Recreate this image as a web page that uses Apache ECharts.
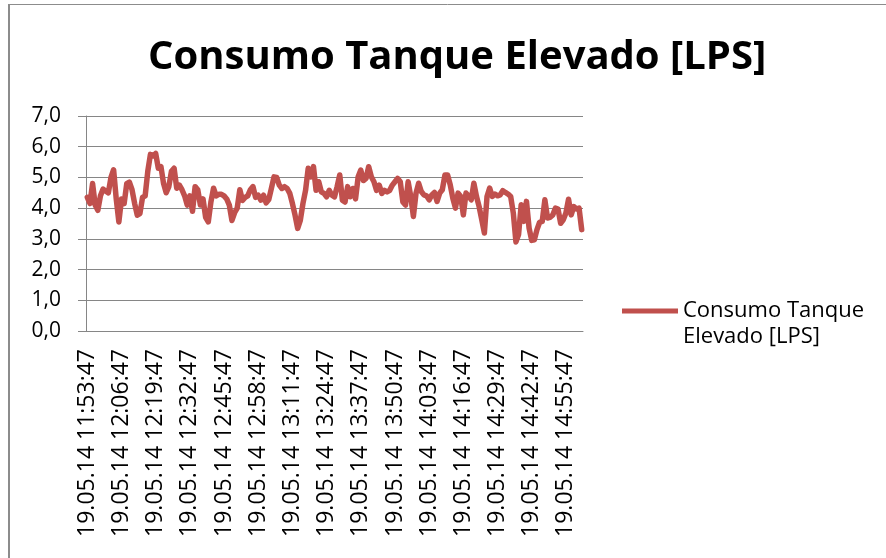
<!DOCTYPE html>
<html>
<head>
<meta charset="utf-8">
<script src="https://cdn.jsdelivr.net/npm/echarts@6/dist/echarts.min.js"></script>
<style>
  html, body { margin: 0; padding: 0; background: #fff; }
  #chart { width: 886px; height: 558px; }
</style>
</head>
<body>
<div id="chart"></div>
<script>
var seriesName = 'Consumo Tanque Elevado [LPS]';

// one reading per minute, starting 19.05.14 11:53:47
var startHour = 11;
var startMinute = 53;
var pointCount = 189;

var consumo = [
    4.35, 4.15, 4.8, 4.1, 3.93, 4.4, 4.62, 4.55, 4.5, 5.0,
    5.25, 4.3, 3.55, 4.3, 4.15, 4.8, 4.85, 4.6, 4.15, 3.77,
    3.82, 4.35, 4.4, 5.2, 5.75, 5.7, 5.78, 5.3, 5.35, 4.8,
    4.5, 4.7, 5.2, 5.3, 4.65, 4.75, 4.6, 4.4, 4.1, 4.4,
    3.9, 4.7, 4.6, 4.1, 4.3, 3.7, 3.55, 4.2, 4.65, 4.4,
    4.45, 4.45, 4.4, 4.3, 4.1, 3.6, 3.85, 4.0, 4.6, 4.25,
    4.35, 4.4,
    4.6, 4.7, 4.35, 4.42, 4.26, 4.42, 4.17, 4.28, 4.64, 5.02,
    5.0, 4.75, 4.64, 4.7, 4.64, 4.48, 4.15, 3.77, 3.34, 3.6,
    4.15, 4.58, 5.3, 5.02, 5.35, 4.58, 4.86, 4.53, 4.48, 4.37,
    4.58, 4.42, 4.37, 4.7, 5.08, 4.26, 4.2, 4.7, 4.37, 4.64,
    4.3, 5.02, 5.24, 4.9, 4.97, 5.35, 5.02, 4.86, 4.58, 4.75,
    4.48, 4.58, 4.53, 4.58, 4.75, 4.86, 4.97, 4.86, 4.2, 4.1,
    4.86, 4.38, 3.73, 4.49, 4.81, 4.54, 4.43, 4.4, 4.27, 4.43,
    4.51, 4.22, 4.49, 4.6, 5.08, 5.08, 4.76, 4.32, 4.0, 4.49,
    4.38, 3.78, 4.49, 4.4, 4.27, 4.81, 4.38, 4.05, 3.62, 3.19,
    4.38, 4.65, 4.38, 4.46, 4.4, 4.43, 4.57, 4.51, 4.46, 4.38,
    3.84, 2.9, 3.14, 4.11, 3.57, 4.22, 3.35, 2.95, 2.97, 3.3,
    3.54, 3.57, 4.27, 3.68, 3.7, 3.78, 4.0, 3.97, 3.51, 3.62,
    3.84, 4.29, 3.78, 4.05, 3.97, 4.0, 3.3
];

function pad(n) {
    return (n < 10 ? '0' : '') + n;
}

var tiempos = [];
for (var i = 0; i < pointCount; i++) {
    var total = startHour * 60 + startMinute + i;
    tiempos.push('19.05.14 ' + pad(Math.floor(total / 60)) + ':' + pad(total % 60) + ':47');
}

var font = 'Open Sans';
var gray = '#868686';

var chart = echarts.init(document.getElementById('chart'), null, { renderer: 'canvas' });

chart.setOption({
    animation: false,
    backgroundColor: '#fff',
    title: {
        text: seriesName,
        left: 143,
        top: 33,
        textStyle: { fontFamily: font, fontWeight: 'bold', fontSize: 40, color: '#000' }
    },
    legend: {
        data: [seriesName],
        left: 617,
        top: 295,
        itemWidth: 56,
        itemHeight: 5,
        itemGap: 3,
        icon: 'rect',
        formatter: function () { return 'Consumo Tanque'; },
        textStyle: { fontFamily: font, fontSize: 22, color: '#000' }
    },
    grid: { left: 86, right: 303, top: 116, bottom: 227, containLabel: false },
    xAxis: {
        type: 'category',
        data: tiempos,
        boundaryGap: true,
        axisLine: { lineStyle: { color: gray, width: 1 } },
        axisTick: { interval: 0, length: 7, lineStyle: { color: gray } },
        axisLabel: {
            interval: 12,
            rotate: 90,
            margin: 18,
            fontFamily: font,
            fontSize: 23,
            color: '#000'
        },
        splitLine: { show: false }
    },
    yAxis: {
        type: 'value',
        min: 0,
        max: 7,
        interval: 1,
        axisLine: { show: true, lineStyle: { color: gray, width: 1 } },
        axisTick: { show: true, length: 8, lineStyle: { color: gray } },
        axisLabel: {
            margin: 25,
            fontFamily: font,
            fontSize: 21,
            color: '#000',
            formatter: function (v) { return v.toFixed(1).replace('.', ','); }
        },
        splitLine: { lineStyle: { color: gray, width: 1 } }
    },
    series: [{
        name: seriesName,
        type: 'line',
        data: consumo,
        showSymbol: false,
        symbol: 'none',
        color: '#C0504D',
        lineStyle: { width: 5.5, color: '#C0504D', cap: 'round', join: 'round' }
    }],
    graphic: [
        {
            type: 'text',
            left: 683,
            top: 326,
            style: { text: 'Elevado [LPS]', fontFamily: font, fontSize: 22, fill: '#000' }
        },
        {
            type: 'line',
            shape: { x1: 9, y1: 4, x2: 9, y2: 558 },
            style: { stroke: '#8c8c8c', lineWidth: 2 }
        },
        {
            type: 'line',
            shape: { x1: 9, y1: 4.5, x2: 886, y2: 4.5 },
            style: { stroke: '#8c8c8c', lineWidth: 1 }
        }
    ]
});
</script>
</body>
</html>
